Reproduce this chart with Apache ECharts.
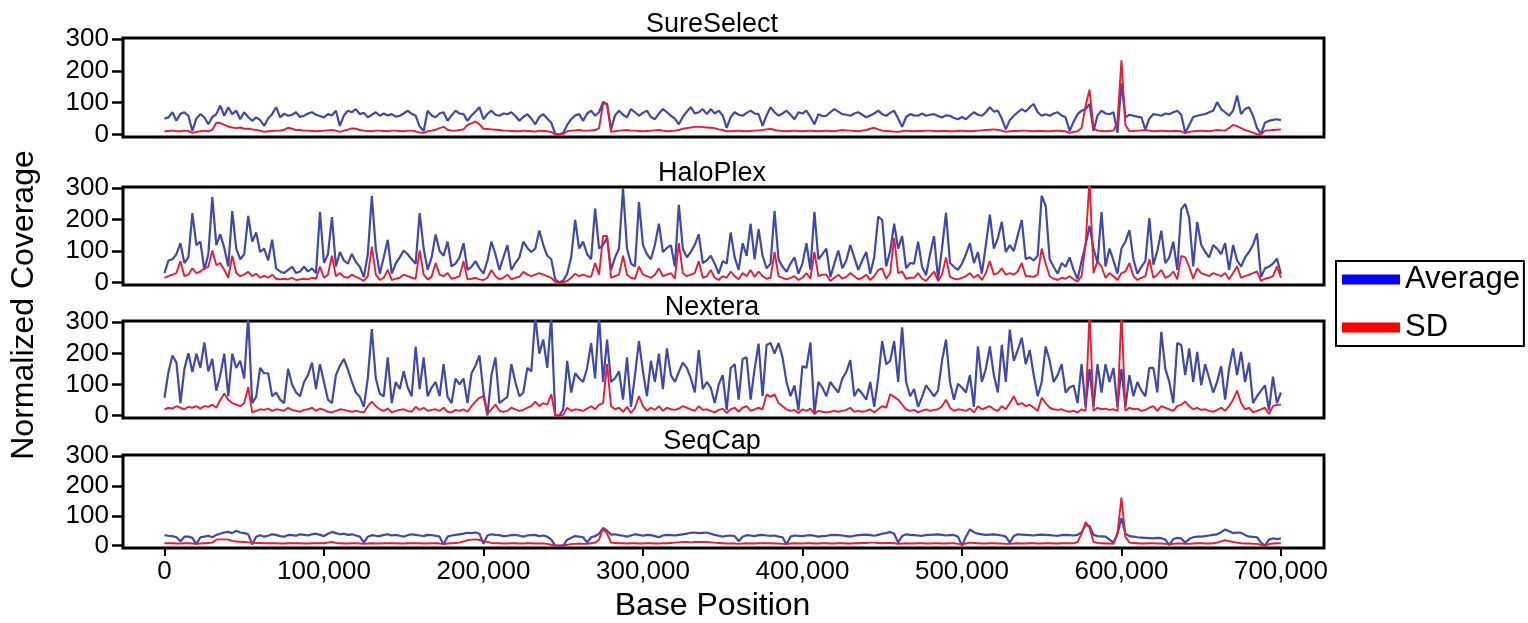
<!DOCTYPE html>
<html>
<head>
<meta charset="utf-8">
<script src="https://cdn.jsdelivr.net/npm/echarts@6/dist/echarts.min.js"></script>
<style>
html,body{margin:0;padding:0;background:#fff;}
#chart{width:1528px;height:623px;}
</style>
</head>
<body>
<div id="chart"></div>
<script>
// ---------------- data ----------------
const panelNames = ['SureSelect', 'HaloPlex', 'Nextera', 'SeqCap'];
const seriesNames = ['Average', 'SD'];
const xTickValues = [0, 100000, 200000, 300000, 400000, 500000, 600000, 700000];
const yTickValues = [0, 100, 200, 300];
const sampleStep = 2500;   // sampling step (bp) of every series, starting at position 0

const sureSelectAvg = [
50,54,70,43,65,70,59,11,50,64,
54,32,55,64,91,59,86,64,75,48,
70,55,43,54,45,27,50,64,86,54,
65,59,62,70,55,59,66,70,62,58,
54,64,60,75,27,60,75,70,80,64,
68,54,62,70,59,66,60,64,56,59,
66,75,65,59,25,11,75,60,54,66,
70,43,60,75,66,64,43,60,72,86,
48,65,75,62,59,66,64,70,58,43,
55,64,50,32,55,64,50,37,2,0,
5,30,48,60,64,43,66,75,59,70,
102,96,16,60,75,62,54,80,70,59,
68,75,55,48,66,80,70,59,50,32,
55,72,86,66,70,80,64,80,66,75,
60,21,55,70,62,59,68,75,66,64,
27,60,86,70,59,66,75,62,48,70,
66,75,55,32,64,58,59,70,80,72,
64,62,59,66,70,62,54,60,66,75,
64,59,68,75,50,24,55,64,60,59,
66,59,62,64,58,54,60,59,52,48,
55,48,60,70,62,59,70,86,72,75,
50,16,45,59,70,80,72,86,96,70,
59,64,59,66,70,60,54,11,40,64,
75,80,96,11,60,75,66,64,70,5,
161,54,62,59,56,54,16,50,64,62,
59,66,64,70,75,62,5,30,55,59,
62,64,70,75,102,80,70,59,75,123,
64,80,86,59,20,2,37,43,46,48,
45];
const sureSelectSD = [
10,11,12,10,10,12,11,5,8,10,
12,10,15,37,36,30,25,22,20,22,
18,18,16,14,12,8,10,11,12,12,
15,21,18,14,14,12,12,11,10,11,
12,13,14,12,8,12,15,19,18,14,
12,11,10,12,12,11,10,12,12,11,
10,12,12,10,6,5,10,12,15,20,
24,15,12,12,14,16,30,35,41,32,
18,17,16,15,14,12,12,11,10,10,
12,11,10,9,12,11,10,8,0,0,
2,10,12,13,14,12,12,13,14,20,
99,95,8,10,12,13,14,12,12,11,
10,11,12,13,14,12,10,11,12,14,
18,20,22,24,24,23,22,21,20,16,
14,10,10,11,12,11,10,11,12,13,
14,16,18,14,12,11,10,11,12,11,
10,11,12,11,10,11,12,11,10,12,
14,13,12,11,10,12,14,18,21,16,
12,11,10,9,8,10,12,11,10,11,
11,12,12,11,10,11,11,10,10,11,
12,11,10,11,12,13,14,15,16,14,
12,8,10,11,11,12,12,11,10,11,
11,10,10,11,12,11,10,5,8,10,
20,90,141,20,12,11,10,11,12,40,
234,30,10,11,12,13,14,12,10,11,
12,11,10,11,11,10,4,8,10,11,
12,11,10,12,14,13,12,20,30,26,
20,14,10,6,0,0,12,13,14,15,
16];

const haloPlexAvg = [
30,70,74,90,125,62,80,221,119,130,
40,90,272,119,153,110,51,227,108,74,
90,212,130,159,97,108,70,136,45,35,
30,40,50,30,35,50,35,45,30,225,
62,90,208,51,97,70,60,91,65,50,
17,90,276,108,28,80,136,28,60,80,
102,90,74,60,221,108,40,80,153,100,
85,130,51,60,80,125,40,50,68,45,
28,70,130,90,40,80,119,40,62,80,
130,110,97,108,165,120,85,74,10,0,
6,28,80,199,108,130,90,74,235,108,
120,142,40,80,108,300,108,60,51,256,
119,90,74,120,187,97,110,119,51,247,
108,80,97,120,153,62,70,85,60,28,
68,60,159,80,40,125,85,187,74,170,
85,45,60,227,74,50,34,60,80,28,
60,125,40,225,74,90,108,17,60,102,
45,70,119,80,40,70,97,28,80,210,
199,51,100,187,108,148,45,62,60,130,
50,23,90,148,11,108,222,62,50,40,
60,90,125,62,97,28,120,216,108,140,
193,97,119,100,150,199,74,80,70,85,
276,244,74,50,28,62,50,80,40,11,
68,120,180,108,62,224,51,108,70,28,
108,130,167,74,28,50,68,205,57,100,
165,62,80,130,40,233,250,205,51,193,
120,97,80,119,108,90,125,40,119,70,
51,80,97,120,156,17,45,50,60,76,
28];
const haloPlexSD = [
15,20,25,30,68,20,25,45,30,35,
45,50,102,55,62,40,15,85,30,20,
25,34,20,28,15,22,15,25,12,10,
12,10,15,8,10,12,10,15,12,51,
15,25,85,20,30,18,15,25,18,12,
5,20,114,25,8,15,40,8,12,15,
25,20,15,12,102,25,10,18,62,25,
20,30,12,15,20,68,10,12,15,10,
8,15,40,20,10,15,25,10,15,18,
34,25,20,25,30,25,20,15,2,0,
0,5,15,28,20,25,20,18,62,25,
148,148,15,20,25,85,25,15,12,51,
25,20,15,25,45,20,25,30,12,125,
30,20,25,30,68,15,20,40,15,8,
20,15,35,20,10,30,20,40,18,35,
20,12,15,97,20,15,10,15,20,8,
15,30,12,97,20,25,25,5,15,25,
12,18,30,20,10,15,25,8,20,40,
45,12,30,142,30,35,12,15,15,30,
12,5,20,35,5,25,80,18,12,10,
15,20,30,15,25,8,30,68,25,30,
45,25,30,25,35,62,20,20,18,25,
108,60,20,12,8,15,12,20,10,3,
20,120,330,30,68,50,15,30,20,8,
30,35,62,20,8,15,20,74,15,25,
40,15,20,35,10,85,80,50,12,45,
30,25,20,30,25,20,30,10,30,51,
15,20,25,30,35,5,12,15,20,51,
15];

const nexteraAvg = [
57,140,193,170,40,150,200,140,199,153,
235,142,182,80,130,199,62,199,153,176,
119,318,40,60,153,136,136,62,74,51,
40,150,100,74,62,108,130,170,85,165,
108,51,40,130,160,182,148,108,74,60,
28,120,278,119,70,62,187,40,108,85,
142,90,62,222,85,187,62,90,108,62,
165,60,40,119,100,119,40,136,160,193,
74,0,130,187,40,50,60,165,108,62,
74,153,142,318,199,244,153,318,0,0,
20,176,74,136,120,108,153,233,119,318,
108,244,108,120,142,51,187,28,130,239,
142,62,176,108,199,85,216,130,108,140,
170,153,120,74,210,85,108,90,40,100,
130,17,153,165,51,182,187,51,150,231,
62,227,233,199,233,187,108,62,97,17,
159,153,235,6,108,90,62,108,90,74,
119,140,178,62,85,70,51,108,28,120,
239,165,176,239,108,284,108,62,85,28,
60,97,80,62,80,176,244,108,51,102,
90,74,130,28,222,108,150,222,130,74,
227,108,276,176,210,250,165,210,130,62,
108,222,176,108,130,165,74,90,97,40,
165,28,150,28,165,74,165,108,153,28,
150,28,130,62,108,80,62,153,153,74,
269,150,108,40,233,227,130,216,108,205,
97,165,120,74,108,159,51,150,216,130,
205,108,170,40,62,80,97,17,125,40,
74];
const nexteraSD = [
20,25,22,30,25,20,28,25,30,22,
30,28,35,25,50,71,51,40,35,30,
40,91,10,15,20,18,22,15,20,18,
15,25,18,15,12,18,20,25,15,22,
18,12,10,15,20,18,15,12,15,12,
10,30,45,30,20,15,22,10,15,18,
20,15,12,28,18,25,15,18,20,15,
25,12,10,18,15,20,12,30,45,57,
62,6,20,35,15,12,15,25,20,15,
18,25,30,45,30,40,35,68,0,0,
2,25,15,20,18,15,22,30,20,35,
40,165,30,20,25,12,28,8,25,62,
30,15,25,18,30,15,25,20,18,22,
30,25,20,15,30,18,20,15,10,18,
22,8,20,25,12,25,30,15,20,25,
20,68,60,68,40,30,20,15,18,8,
20,15,22,5,15,12,10,12,15,12,
15,18,25,12,15,12,15,20,10,20,
30,25,68,60,51,35,20,15,18,10,
15,20,15,18,20,30,51,25,15,20,
18,15,22,10,30,20,25,30,20,15,
30,20,40,62,35,40,30,35,25,15,
57,40,25,20,18,20,15,12,15,10,
20,15,330,15,25,20,22,18,20,15,
330,15,25,20,22,15,18,25,30,15,
30,25,20,15,30,35,45,30,20,25,
18,20,15,12,18,25,15,30,51,80,
40,20,25,10,15,20,25,5,30,34,
35];

const seqCapAvg = [
35,33,32,28,15,30,30,26,5,28,
30,33,28,36,40,44,46,42,50,44,
42,38,4,30,35,30,33,38,36,32,
30,36,35,33,38,36,34,38,40,36,
32,40,46,42,38,40,36,38,34,30,
10,30,35,33,32,36,38,34,36,33,
30,35,38,36,34,32,36,35,33,30,
4,30,34,36,38,40,43,42,44,40,
6,34,38,36,35,32,33,35,36,33,
30,34,35,36,32,34,30,20,0,0,
0,20,26,32,30,28,10,28,32,40,
59,50,37,38,35,33,30,34,38,36,
33,36,35,32,28,34,36,35,34,36,
38,40,43,44,42,43,44,40,36,33,
30,33,34,32,15,30,35,34,32,35,
36,34,33,34,30,28,4,30,34,33,
32,34,35,33,30,32,33,35,36,35,
34,32,30,33,35,36,37,35,33,36,
40,42,46,40,10,32,38,36,35,34,
33,35,36,37,38,36,34,35,36,30,
0,30,54,45,40,38,36,37,38,36,
34,30,10,32,38,37,36,35,34,36,
37,36,35,34,33,35,36,35,34,36,
45,70,65,36,32,31,30,20,10,40,
92,40,32,30,28,27,26,25,24,26,
25,20,2,22,26,24,10,22,28,30,
30,32,34,36,38,45,54,48,42,44,
43,36,30,29,28,10,0,20,24,22,
24];
const seqCapSD = [
8,8,8,7,7,8,8,7,6,7,
8,9,10,20,21,21,20,16,14,13,
12,11,10,9,9,8,8,8,8,7,
7,8,8,8,8,7,7,8,8,8,
8,10,12,9,8,7,7,8,8,7,
6,7,8,7,7,8,8,8,8,7,
7,8,8,8,8,7,7,8,8,7,
5,7,8,9,10,14,18,20,21,19,
16,12,9,8,8,7,7,8,8,7,
7,8,8,7,7,7,6,3,0,0,
0,3,5,6,7,6,6,8,10,20,
59,40,10,9,8,8,7,8,8,7,
7,8,8,7,7,8,8,9,10,11,
12,12,11,12,12,12,12,11,10,9,
8,7,7,7,6,7,8,7,7,8,
8,8,8,7,7,6,5,7,8,7,
7,8,8,7,7,8,8,7,7,8,
8,7,7,8,8,9,9,10,10,9,
8,9,9,8,6,7,8,7,7,8,
8,7,7,8,8,7,7,8,8,6,
4,7,10,9,8,7,7,8,8,7,
7,6,6,7,8,7,7,8,8,7,
7,8,8,7,7,8,8,8,8,12,
40,79,60,12,9,8,7,7,6,40,
161,30,10,9,8,7,7,8,8,7,
7,6,5,6,7,7,6,6,7,8,
8,7,7,8,10,14,18,15,12,10,
8,7,7,6,6,3,0,5,7,8,
8];

// ---------------- layout / style ----------------
const FONT = "'Liberation Sans', Arial, Helvetica, sans-serif";
const AVG_COLOR = '#3e48ad';
const SD_COLOR = '#f0192f';
const gridTops = [38, 187, 321, 455];
const gridHeights = [99, 98, 97, 96];
const gridLeft = 123, gridRight = 204;
const xMin = -26000, xMax = 727000;
const yMin = -8, yMax = 304;
const titleCenterX = 712;

const panelData = [
  {avg: sureSelectAvg, sd: sureSelectSD},
  {avg: haloPlexAvg, sd: haloPlexSD},
  {avg: nexteraAvg, sd: nexteraSD},
  {avg: seqCapAvg, sd: seqCapSD}
];
function toPairs(vals) { return vals.map(function (v, i) { return [i * sampleStep, v]; }); }
function fmtThousands(v) { return Number(v).toLocaleString('en-US'); }

const grids = [], xAxes = [], yAxes = [], series = [], graphics = [];
panelData.forEach(function (p, k) {
  const last = k === panelData.length - 1;
  grids.push({
    left: gridLeft, right: gridRight, top: gridTops[k], height: gridHeights[k],
    show: true, borderColor: '#000', borderWidth: 3, backgroundColor: 'transparent'
  });
  xAxes.push({
    type: 'value', gridIndex: k, min: xMin, max: xMax, position: 'bottom',
    axisLine: {show: false, onZero: false},
    splitLine: {show: false},
    axisTick: {show: last, length: 8, lineStyle: {color: '#000', width: 2}, customValues: xTickValues},
    axisLabel: {show: last, customValues: xTickValues, formatter: fmtThousands,
      fontSize: 26, fontFamily: FONT, color: '#000', margin: 11},
    name: last ? 'Base Position' : '',
    nameLocation: 'middle', nameGap: 42,
    nameTextStyle: {fontSize: 32, fontFamily: FONT, color: '#000', padding: [0, 22, 0, 0]}
  });
  yAxes.push({
    type: 'value', gridIndex: k, min: yMin, max: yMax, position: 'left',
    axisLine: {show: false, onZero: false},
    splitLine: {show: false},
    axisTick: {show: true, length: 11, lineStyle: {color: '#000', width: 2.5}, customValues: yTickValues},
    axisLabel: {customValues: yTickValues, fontSize: 26, fontFamily: FONT, color: '#000', margin: 14}
  });
  series.push({
    name: seriesNames[0], type: 'line', xAxisIndex: k, yAxisIndex: k,
    data: toPairs(p.avg), showSymbol: false, symbol: 'none', clip: true,
    lineStyle: {color: AVG_COLOR, width: 2.2}, itemStyle: {color: AVG_COLOR}, z: 2
  });
  series.push({
    name: seriesNames[1], type: 'line', xAxisIndex: k, yAxisIndex: k,
    data: toPairs(p.sd), showSymbol: false, symbol: 'none', clip: true,
    lineStyle: {color: SD_COLOR, width: 1.9}, itemStyle: {color: SD_COLOR}, z: 3
  });
  graphics.push({
    type: 'text', x: titleCenterX, y: gridTops[k] - 13,
    style: {text: panelNames[k], fontSize: 27, fontFamily: FONT, fill: '#000', align: 'center', verticalAlign: 'middle'}
  });
});
graphics.push({
  type: 'text', x: 24, y: 305, rotation: Math.PI / 2,
  style: {text: 'Normalized Coverage', fontSize: 32, fontFamily: FONT, fill: '#000', align: 'center', verticalAlign: 'middle'}
});

const chart = echarts.init(document.getElementById('chart'), null, {renderer: 'canvas'});
chart.setOption({
  animation: false,
  backgroundColor: '#fff',
  grid: grids,
  xAxis: xAxes,
  yAxis: yAxes,
  series: series,
  graphic: graphics,
  legend: {
    orient: 'vertical', left: 1336, top: 261,
    icon: 'rect', itemWidth: 58, itemHeight: 10, itemGap: 17,
    borderColor: '#000', borderWidth: 2, borderRadius: 0,
    padding: [3, 4, 3, 6],
    selectedMode: false,
    textStyle: {fontSize: 31, fontFamily: FONT, color: '#000'},
    data: [
      {name: seriesNames[0], itemStyle: {color: '#0000ff', borderWidth: 0}},
      {name: seriesNames[1], itemStyle: {color: '#ff0000', borderWidth: 0}}
    ]
  }
});
</script>
</body>
</html>
